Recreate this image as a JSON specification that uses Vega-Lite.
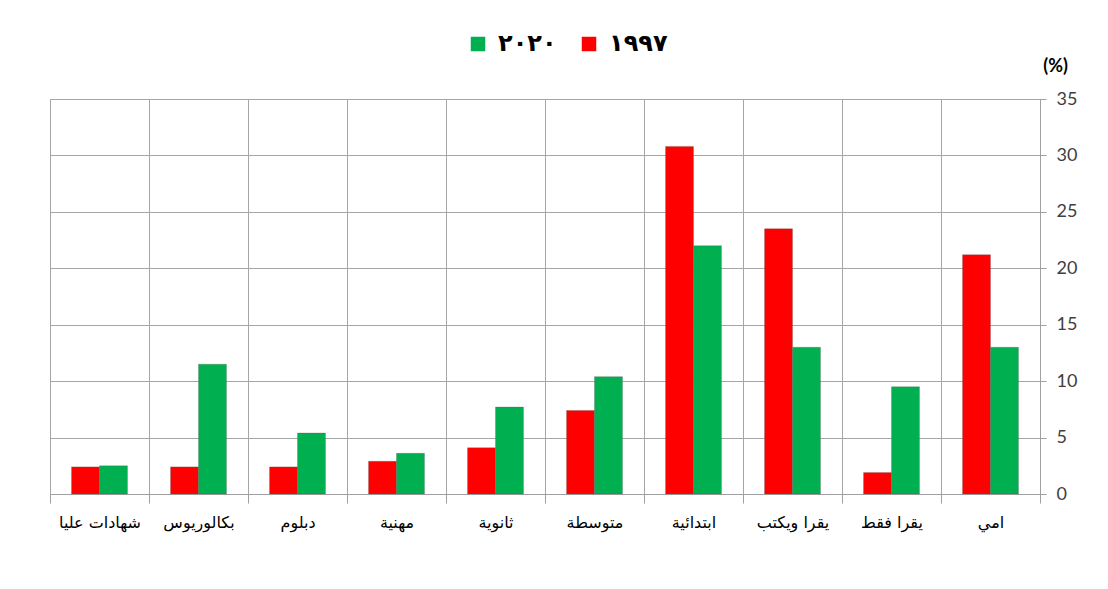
{
  "$schema": "https://vega.github.io/schema/vega-lite/v6.json",
  "autosize": {"type": "none"},
  "padding": {"left": 50, "top": 99, "right": 68, "bottom": 95},
  "width": 990,
  "height": 395,
  "background": "white",
  "data": {
    "values": [
      {"edu": "امي", "year": "١٩٩٧", "value": 21.2},
      {"edu": "امي", "year": "٢٠٢٠", "value": 13.0},
      {"edu": "يقرا فقط", "year": "١٩٩٧", "value": 1.9},
      {"edu": "يقرا فقط", "year": "٢٠٢٠", "value": 9.5},
      {"edu": "يقرا ويكتب", "year": "١٩٩٧", "value": 23.5},
      {"edu": "يقرا ويكتب", "year": "٢٠٢٠", "value": 13.0},
      {"edu": "ابتدائية", "year": "١٩٩٧", "value": 30.8},
      {"edu": "ابتدائية", "year": "٢٠٢٠", "value": 22.0},
      {"edu": "متوسطة", "year": "١٩٩٧", "value": 7.4},
      {"edu": "متوسطة", "year": "٢٠٢٠", "value": 10.4},
      {"edu": "ثانوية", "year": "١٩٩٧", "value": 4.1},
      {"edu": "ثانوية", "year": "٢٠٢٠", "value": 7.7},
      {"edu": "مهنية", "year": "١٩٩٧", "value": 2.9},
      {"edu": "مهنية", "year": "٢٠٢٠", "value": 3.6},
      {"edu": "دبلوم", "year": "١٩٩٧", "value": 2.4},
      {"edu": "دبلوم", "year": "٢٠٢٠", "value": 5.4},
      {"edu": "بكالوريوس", "year": "١٩٩٧", "value": 2.4},
      {"edu": "بكالوريوس", "year": "٢٠٢٠", "value": 11.5},
      {"edu": "شهادات عليا", "year": "١٩٩٧", "value": 2.4},
      {"edu": "شهادات عليا", "year": "٢٠٢٠", "value": 2.5}
    ]
  },
  "mark": {"type": "bar", "stroke": "#5a5a5a", "strokeWidth": 0.6, "strokeOpacity": 0.5},
  "encoding": {
    "x": {
      "field": "edu",
      "type": "nominal",
      "sort": ["شهادات عليا", "بكالوريوس", "دبلوم", "مهنية", "ثانوية", "متوسطة", "ابتدائية", "يقرا ويكتب", "يقرا فقط", "امي"],
      "scale": {"paddingInner": 0, "paddingOuter": 0},
      "axis": {
        "title": null,
        "labelAngle": 0,
        "labelFont": "DejaVu Sans",
        "labelFontSize": 16,
        "labelColor": "#000000",
        "labelPadding": 11,
        "tickBand": "extent",
        "ticks": true,
        "tickSize": 9,
        "tickColor": "#a0a0a0",
        "domainColor": "#a0a0a0",
        "grid": true,
        "gridColor": "#a6a6a6",
        "gridWidth": 1
      }
    },
    "xOffset": {
      "field": "year",
      "type": "nominal",
      "scale": {"domain": ["١٩٩٧", "٢٠٢٠"], "paddingInner": 0, "paddingOuter": 0.77}
    },
    "y": {
      "field": "value",
      "type": "quantitative",
      "scale": {"domain": [0, 35], "nice": false},
      "axis": {
        "orient": "right",
        "values": [0, 5, 10, 15, 20, 25, 30, 35],
        "title": "(%)",
        "titleAngle": 0,
        "titleX": 15,
        "titleY": -33,
        "titleAlign": "center",
        "titleBaseline": "middle",
        "titleFont": "Lato",
        "titleFontSize": 18,
        "titleFontWeight": "bold",
        "titleColor": "#000000",
        "labelFont": "Lato",
        "labelFontSize": 18,
        "labelColor": "#404040",
        "labelPadding": 10,
        "tickSize": 6,
        "tickColor": "#a0a0a0",
        "domainColor": "#a0a0a0",
        "grid": true,
        "gridColor": "#a6a6a6",
        "gridWidth": 1
      }
    },
    "color": {
      "field": "year",
      "type": "nominal",
      "scale": {"domain": ["٢٠٢٠", "١٩٩٧"], "range": ["#00b050", "#ff0000"]},
      "legend": {
        "title": null,
        "orient": "none",
        "legendX": 416,
        "legendY": -67,
        "direction": "horizontal",
        "symbolType": "square",
        "symbolSize": 210,
        "symbolStrokeWidth": 0,
        "labelFont": "DejaVu Sans",
        "labelFontSize": 24,
        "labelFontWeight": "bold",
        "labelColor": "#000000",
        "labelOffset": 8,
        "columnPadding": 20
      }
    }
  },
  "config": {
    "view": {"stroke": "#a0a0a0", "strokeWidth": 1}
  }
}
